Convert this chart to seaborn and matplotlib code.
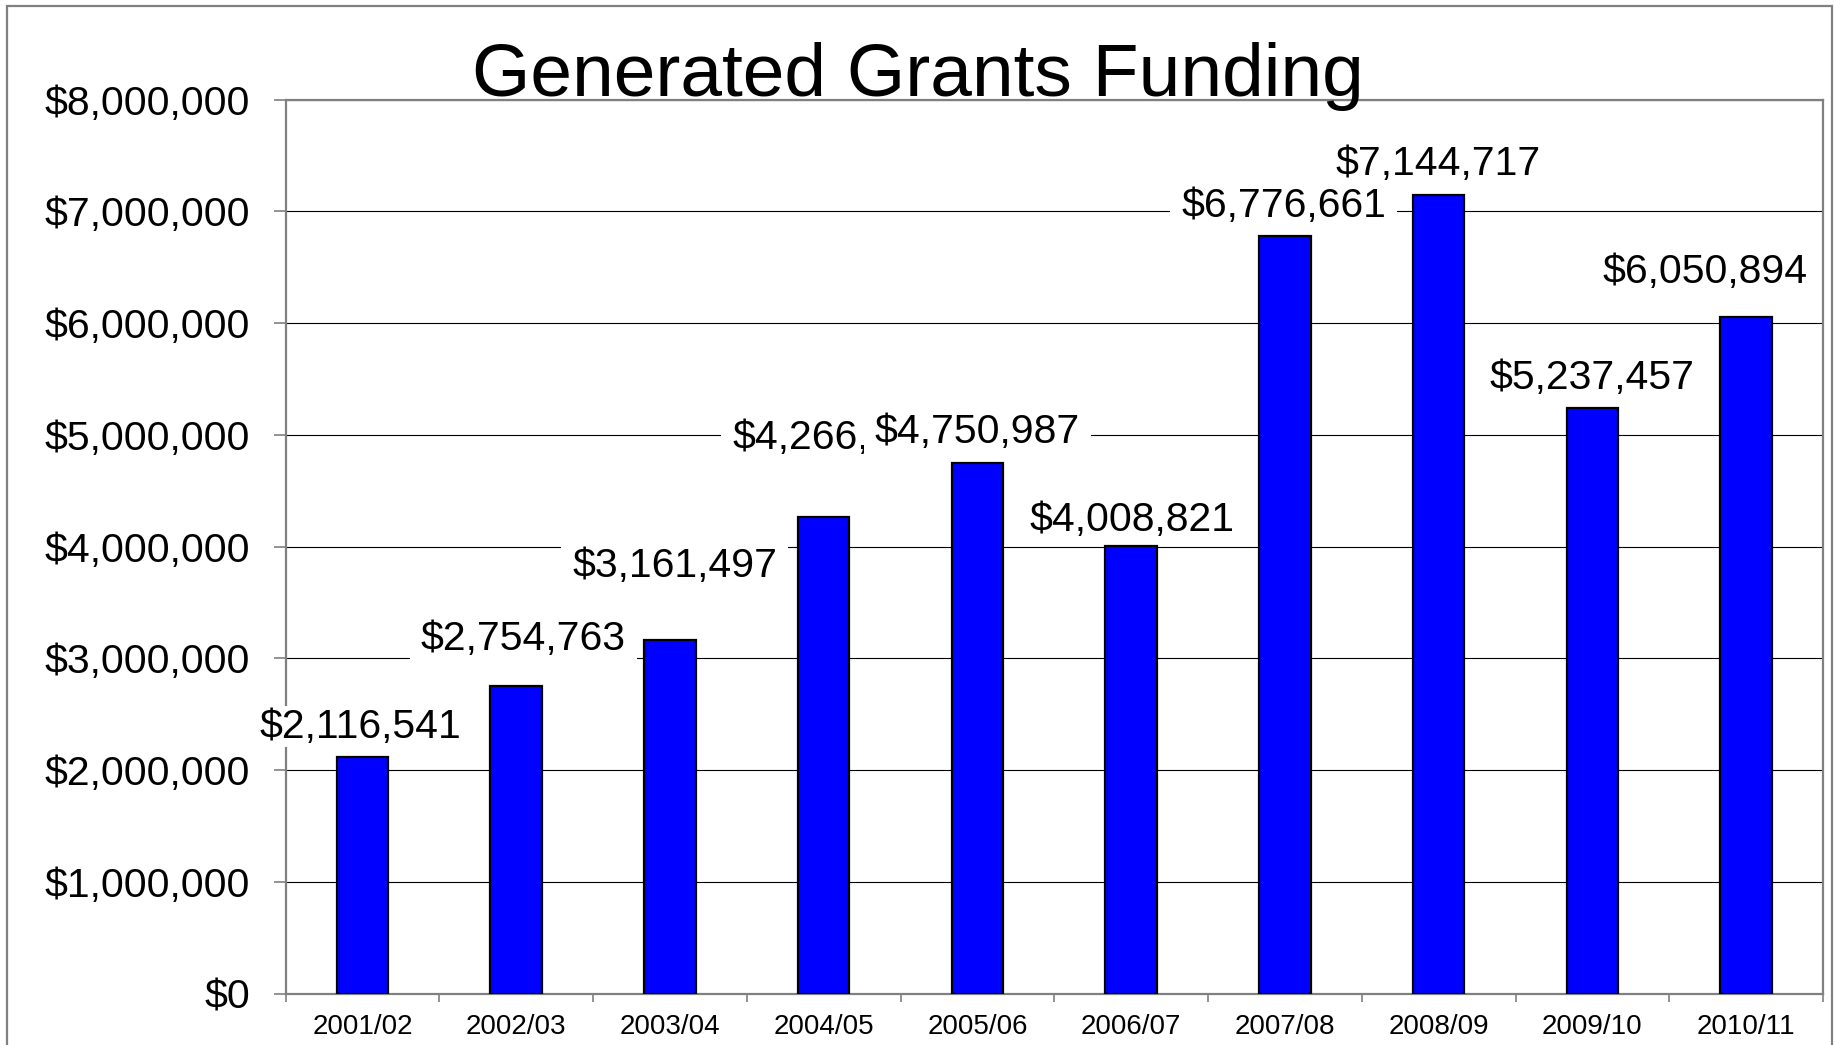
import matplotlib
matplotlib.use("Agg")
import matplotlib.pyplot as plt
import seaborn as sns
import pandas as pd
from matplotlib.patches import Rectangle
from matplotlib.path import Path
from matplotlib.ticker import FuncFormatter, FixedLocator

years = ["2001/02", "2002/03", "2003/04", "2004/05", "2005/06",
         "2006/07", "2007/08", "2008/09", "2009/10", "2010/11"]
funding = [2116541, 2754763, 3161497, 4266000, 4750987,
           4008821, 6776661, 7144717, 5237457, 6050894]
value_labels = ["$2,116,541", "$2,754,763", "$3,161,497", "$4,266,000", "$4,750,987",
                "$4,008,821", "$6,776,661", "$7,144,717", "$5,237,457", "$6,050,894"]
title = "Generated Grants Funding"

# hand-placed label nudges (points) relative to each bar top
label_dx = [-1.7, 5.0, 3.4, 8.0, 0.0, 0.8, -0.8, 0.0, 0.0, -29.5]
label_dy = [14.0, 25.8, 45.2, 48.5, 14.0, 10.6, 14.0, 14.8, 14.0, 25.0]

sns.set_theme(style="white")
plt.rcParams["font.family"] = ["Liberation Sans", "DejaVu Sans"]

df = pd.DataFrame({"year": years, "funding": funding})


def wide_box(x0, y0, width, height, mutation_size):
    """White label box: generous side padding, tight top/bottom."""
    px = 0.27 * mutation_size
    py = 0.04 * mutation_size
    x0, x1 = x0 - px, x0 + width + px
    y0, y1 = y0 - py, y0 + height + py
    return Path([(x0, y0), (x1, y0), (x1, y1), (x0, y1), (x0, y0)], closed=True)


W, H = 1835, 1045
fig = plt.figure(figsize=(W / 100, H / 100), dpi=100)
fig.patch.set_facecolor("white")

# outer chart frame
fig.patches.append(Rectangle((7 / W, -0.05), (1832 - 7) / W, 1.05 - 6 / H,
                             transform=fig.transFigure, fill=False,
                             edgecolor="#808080", linewidth=1.6, zorder=0))

ax = fig.add_axes([285.6 / W, 1 - 993.6 / H, (1823 - 285.6) / W, (993.6 - 99.5) / H])
sns.barplot(data=df, x="year", y="funding", ax=ax, width=0.335,
            color="#0000FF", saturation=1, edgecolor="black", linewidth=1.6, zorder=3)

ax.set_xlim(-0.5, len(years) - 0.5)
ax.set_ylim(0, 8000000)
ax.set_xlabel("")
ax.set_ylabel("")

# gridlines
ax.yaxis.set_major_locator(FixedLocator(range(0, 8000001, 1000000)))
ax.grid(axis="y", color="black", linewidth=0.8, zorder=0)
ax.set_axisbelow(True)
ax.yaxis.set_major_formatter(FuncFormatter(lambda v, p: "${:,.0f}".format(v)))
ax.tick_params(axis="y", which="major", direction="out", length=8.5, width=1.2,
               color="#808080", pad=17, labelsize=29.5, labelcolor="black", left=True)

# category boundaries carry ticks, names sit on minor ticks at the centres
ax.xaxis.set_major_locator(FixedLocator([i - 0.5 for i in range(len(years) + 1)]))
ax.xaxis.set_major_formatter(FuncFormatter(lambda v, p: ""))
ax.xaxis.set_minor_locator(FixedLocator(range(len(years))))
ax.set_xticklabels(years, minor=True)
ax.tick_params(axis="x", which="major", direction="out", length=6, width=1.2,
               color="#808080", bottom=True)
ax.tick_params(axis="x", which="minor", length=0, pad=15, labelsize=20,
               labelcolor="black", bottom=True)

for s in ax.spines.values():
    s.set_visible(True)
    s.set_color("#808080")
    s.set_linewidth(1.6)

# value labels with white boxes; later labels cover earlier ones
for i, (v, lab) in enumerate(zip(funding, value_labels)):
    ax.annotate(lab, xy=(i, v), xytext=(label_dx[i], label_dy[i]),
                textcoords="offset points", ha="center", va="baseline",
                fontsize=29.5, color="black",
                bbox=dict(boxstyle=wide_box, facecolor="white", edgecolor="none"),
                zorder=10 + i, annotation_clip=False)

fig.text(0.5, 1 - 96 / H, title, ha="center", va="baseline", fontsize=54, color="black",
         zorder=20)

fig.savefig("out.png", dpi=100, facecolor="white")
